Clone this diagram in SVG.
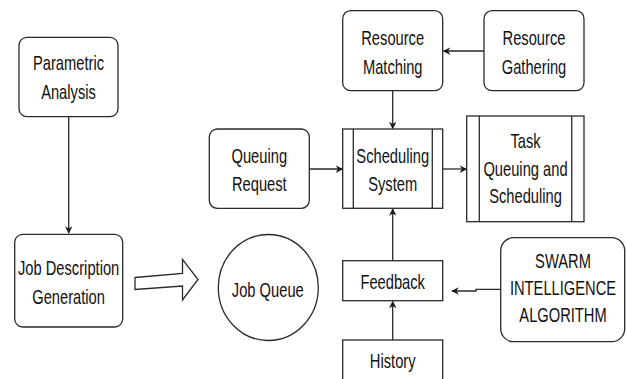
<svg xmlns="http://www.w3.org/2000/svg" width="626" height="379" viewBox="0 0 626 379">
  <style>
    .box { fill: #ffffff; stroke: #2a2a2a; stroke-width: 1.3; }
    .line { fill: none; stroke: #2a2a2a; stroke-width: 1.3; }
    .lbl { font-family: "Liberation Sans", Arial, sans-serif; font-size: 14.7px; fill: #111111; text-anchor: middle; }
  </style>
  <defs>
    <marker id="arrow" viewBox="0 0 10 10" refX="9" refY="5" markerWidth="7.5" markerHeight="7.5" markerUnits="userSpaceOnUse" orient="auto">
      <path d="M0,0 L10,5 L0,10 L3,5 Z" fill="#1a1a1a"/>
    </marker>
  </defs>
  <rect width="626" height="379" fill="#ffffff"/>

  <!-- connectors -->
  <g id="connectors">
    <path class="line" d="M68.7,117 L68.7,233" marker-end="url(#arrow)"/>
    <path class="line" d="M484,51 L443.5,51" marker-end="url(#arrow)"/>
    <path class="line" d="M392.7,91 L392.7,128.5" marker-end="url(#arrow)"/>
    <path class="line" d="M309.3,169 L342.5,169" marker-end="url(#arrow)"/>
    <path class="line" d="M442.7,169 L466.5,169" marker-end="url(#arrow)"/>
    <path class="line" d="M392.7,261 L392.7,209" marker-end="url(#arrow)"/>
    <path class="line" d="M392.7,340 L392.7,301.5" marker-end="url(#arrow)"/>
    <path class="line" d="M500.7,289.3 L476,289.3 L476,291 L452,291" marker-end="url(#arrow)"/>
    <!-- hollow block arrow from job description to job queue -->
    <polygon class="box" points="135,277.5 182.5,273.5 182.5,259.3 198,279.5 182.5,300 182.5,286 135,289.5"/>
  </g>

  <!-- labels are set narrow and stretched vertically (scale 1 x 1.4) -->
  <g id="parametric-analysis">
    <rect class="box" x="19" y="37.3" width="99" height="79.4" rx="8"/>
    <text class="lbl" transform="translate(68.5,70) scale(1,1.4)">Parametric</text>
    <text class="lbl" transform="translate(68.5,98.5) scale(1,1.4)">Analysis</text>
  </g>

  <g id="job-description">
    <rect class="box" x="14.7" y="234.3" width="108" height="92.7" rx="8"/>
    <text class="lbl" transform="translate(68.6,275) scale(1,1.4)">Job Description</text>
    <text class="lbl" transform="translate(68.6,303.5) scale(1,1.4)">Generation</text>
  </g>

  <g id="job-queue">
    <ellipse class="box" cx="268.3" cy="287.5" rx="50" ry="53"/>
    <text class="lbl" transform="translate(267.8,296.5) scale(1,1.4)">Job Queue</text>
  </g>

  <g id="queuing-request">
    <rect class="box" x="209.3" y="129" width="100" height="79.3" rx="8"/>
    <text class="lbl" transform="translate(259.3,162.5) scale(1,1.4)">Queuing</text>
    <text class="lbl" transform="translate(259.3,191) scale(1,1.4)">Request</text>
  </g>

  <g id="resource-matching">
    <rect class="box" x="342.7" y="10.7" width="100" height="80" rx="8"/>
    <text class="lbl" transform="translate(392.7,45) scale(1,1.4)">Resource</text>
    <text class="lbl" transform="translate(392.7,73.5) scale(1,1.4)">Matching</text>
  </g>

  <g id="resource-gathering">
    <rect class="box" x="484" y="10.7" width="100" height="80" rx="8"/>
    <text class="lbl" transform="translate(534,45) scale(1,1.4)">Resource</text>
    <text class="lbl" transform="translate(534,73.5) scale(1,1.4)">Gathering</text>
  </g>

  <g id="scheduling-system">
    <rect class="box" x="342.7" y="129" width="100" height="79.3"/>
    <path class="line" d="M353.3,129 L353.3,208.3 M432.3,129 L432.3,208.3"/>
    <text class="lbl" transform="translate(392.7,162.5) scale(1,1.4)">Scheduling</text>
    <text class="lbl" transform="translate(392.7,191) scale(1,1.4)">System</text>
  </g>

  <g id="task-queuing">
    <rect class="box" x="466.7" y="116" width="117.3" height="105.7"/>
    <path class="line" d="M479.3,116 L479.3,221.7 M571.7,116 L571.7,221.7"/>
    <text class="lbl" transform="translate(525.5,147.7) scale(1,1.4)">Task</text>
    <text class="lbl" transform="translate(525.5,175.5) scale(1,1.4)">Queuing and</text>
    <text class="lbl" transform="translate(525.5,202.7) scale(1,1.4)">Scheduling</text>
  </g>

  <g id="feedback">
    <rect class="box" x="342.7" y="260.7" width="100" height="40"/>
    <text class="lbl" transform="translate(392.7,288.5) scale(1,1.4)">Feedback</text>
  </g>

  <g id="history">
    <rect class="box" x="342.7" y="340" width="100" height="45"/>
    <text class="lbl" transform="translate(392.7,368.3) scale(1,1.4)">History</text>
  </g>

  <g id="swarm-intelligence">
    <rect class="box" x="500.7" y="237.7" width="124" height="104" rx="13"/>
    <text class="lbl" transform="translate(563,267.5) scale(1,1.4)">SWARM</text>
    <text class="lbl" transform="translate(563,294.5) scale(1,1.4)">INTELLIGENCE</text>
    <text class="lbl" transform="translate(563,321.7) scale(1,1.4)">ALGORITHM</text>
  </g>
</svg>
